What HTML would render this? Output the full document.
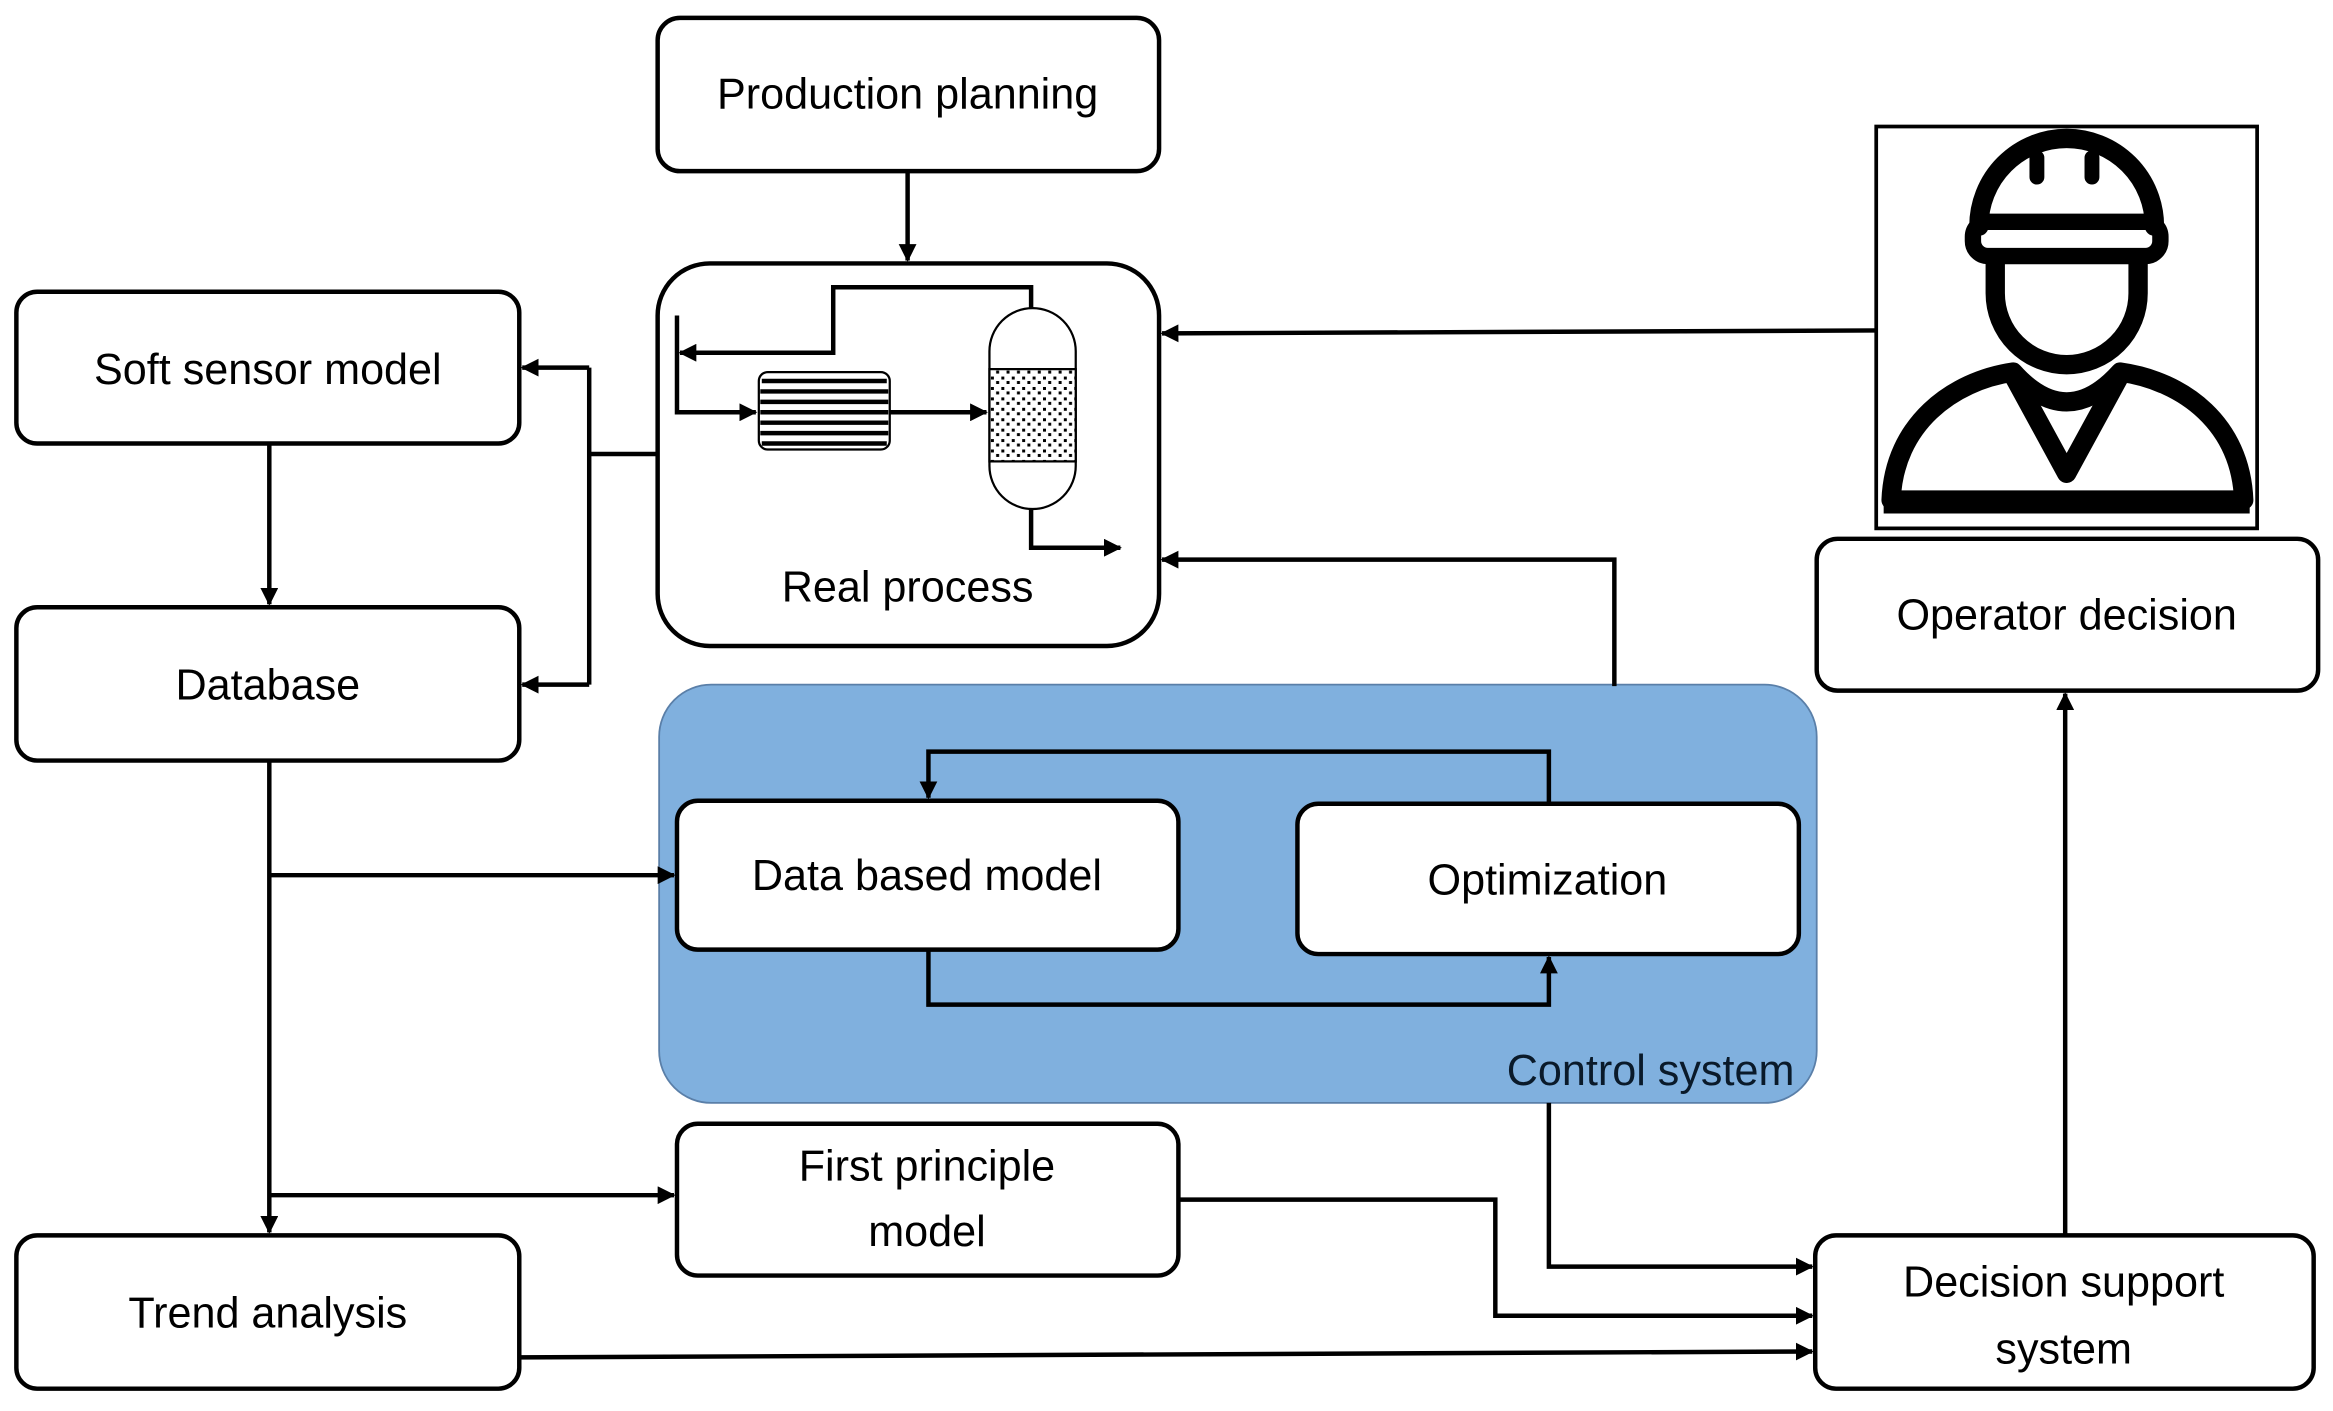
<!DOCTYPE html>
<html><head><meta charset="utf-8"><style>html,body{margin:0;padding:0;background:#fff}svg{display:block}</style></head>
<body>
<svg width="2333" height="1411" viewBox="0 0 1568 948" preserveAspectRatio="none" xmlns="http://www.w3.org/2000/svg" font-family="'Liberation Sans', sans-serif" font-size="29">
<defs>
<marker id="a" markerWidth="12" markerHeight="12" refX="11" refY="6" orient="auto" markerUnits="userSpaceOnUse"><path d="M0,0 L12,6 L0,12 z" fill="#000"/></marker>
<pattern id="dots" width="7" height="7" patternUnits="userSpaceOnUse"><rect width="7" height="7" fill="#fff"/><rect x="1" y="1" width="2" height="2" fill="#000"/><rect x="4.5" y="4" width="2" height="2" fill="#000"/></pattern>
</defs>
<rect width="1568" height="948" fill="#fff"/>
<g fill="none" stroke="#000" stroke-width="3">
<rect x="443" y="460" width="778" height="281" rx="35" fill="#80b0de" stroke="#5a7fa8" stroke-width="1.2"/>
<rect x="442" y="12" width="337" height="103" rx="15" fill="#fff"/>
<rect x="442" y="177" width="337" height="257" rx="35" fill="#fff"/>
<rect x="11" y="196" width="338" height="102" rx="14" fill="#fff"/>
<rect x="11" y="408" width="338" height="103" rx="14" fill="#fff"/>
<rect x="11" y="830" width="338" height="103" rx="14" fill="#fff"/>
<rect x="455" y="538" width="337" height="100" rx="14" fill="#fff"/>
<rect x="872" y="540" width="337" height="101" rx="14" fill="#fff"/>
<rect x="455" y="755" width="337" height="102" rx="14" fill="#fff"/>
<rect x="1220" y="830" width="335" height="103" rx="14" fill="#fff"/>
<rect x="1221" y="362" width="337" height="102" rx="14" fill="#fff"/>
<rect x="1261" y="85" width="256" height="270" fill="#fff" stroke-width="2.5"/>
<path d="M610,115 V175" marker-end="url(#a)"/>
<path d="M1262,222 L781,224" marker-end="url(#a)"/>
<path d="M1085,461 V376 H781" marker-end="url(#a)"/>
<path d="M442,305 H396"/>
<path d="M396,247 V460"/>
<path d="M396,247 H351" marker-end="url(#a)"/>
<path d="M396,460 H351" marker-end="url(#a)"/>
<path d="M181,298 V406" marker-end="url(#a)"/>
<path d="M181,511 V828" marker-end="url(#a)"/>
<path d="M181,588 H453" marker-end="url(#a)"/>
<path d="M181,803 H453" marker-end="url(#a)"/>
<path d="M1041,540 V505 H624 V536" marker-end="url(#a)"/>
<path d="M624,638 V675 H1041 V643" marker-end="url(#a)"/>
<path d="M1041,741 V851 H1218" marker-end="url(#a)"/>
<path d="M792,806 H1005 V884 H1218" marker-end="url(#a)"/>
<path d="M349,912 L1218,908" marker-end="url(#a)"/>
<path d="M1388,830 V466" marker-end="url(#a)"/>
<path d="M693,207 V193 H560 V237 H457" marker-end="url(#a)"/>
<path d="M455,212 V277 H508" marker-end="url(#a)"/>
<path d="M598,277 H663" marker-end="url(#a)"/>
<path d="M693,342 V368 H753" marker-end="url(#a)"/>
</g>
<rect x="510" y="250" width="88" height="52" rx="6" fill="#fff" stroke="#000" stroke-width="1.5"/>
<g stroke="#000" stroke-width="3"><path d="M512,256H596M511,263H597M511,270H597M511,277H597M511,284H597M511,291H597M512,298H596"/></g>
<rect x="665" y="207" width="58" height="135" rx="29" fill="#fff" stroke="#000" stroke-width="1.5"/>
<rect x="665" y="248" width="58" height="62" fill="url(#dots)" stroke="#000" stroke-width="1.5"/>
<!-- operator icon -->
<g fill="none" stroke="#000" stroke-width="13" stroke-linejoin="round" stroke-linecap="round">
<path d="M1330,152 A59,59 0 0 1 1448,152"/>
<rect x="1326" y="149" width="126" height="23" rx="10" stroke-width="11"/>
<path d="M1369,106 V119 M1406,106 V119" stroke-width="10"/>
<path d="M1341,176 V197 A48,48 0 0 0 1437,197 V176"/>
<path d="M1271,336 C1273,285 1312,256 1353,250 Q1389,290 1425,250 C1468,256 1506,285 1508,336 Z"/>
<path d="M1353,252 L1389,318 L1425,252"/>
</g>
<rect x="1266" y="331" width="246" height="14" fill="#000"/>
<g fill="#000" text-anchor="middle">
<text x="610" y="73">Production planning</text>
<text x="610" y="404">Real process</text>
<text x="180" y="258">Soft sensor model</text>
<text x="180" y="470">Database</text>
<text x="180" y="892">Trend analysis</text>
<text x="623" y="598">Data based model</text>
<text x="1040" y="601">Optimization</text>
<text x="623" y="793">First principle</text>
<text x="623" y="837">model</text>
<text x="1387" y="871">Decision support</text>
<text x="1387" y="916">system</text>
<text x="1389" y="423">Operator decision</text>
<text x="1206" y="729" text-anchor="end" fill="#0a1a2a">Control system</text>
</g>
</svg>
</body></html>
